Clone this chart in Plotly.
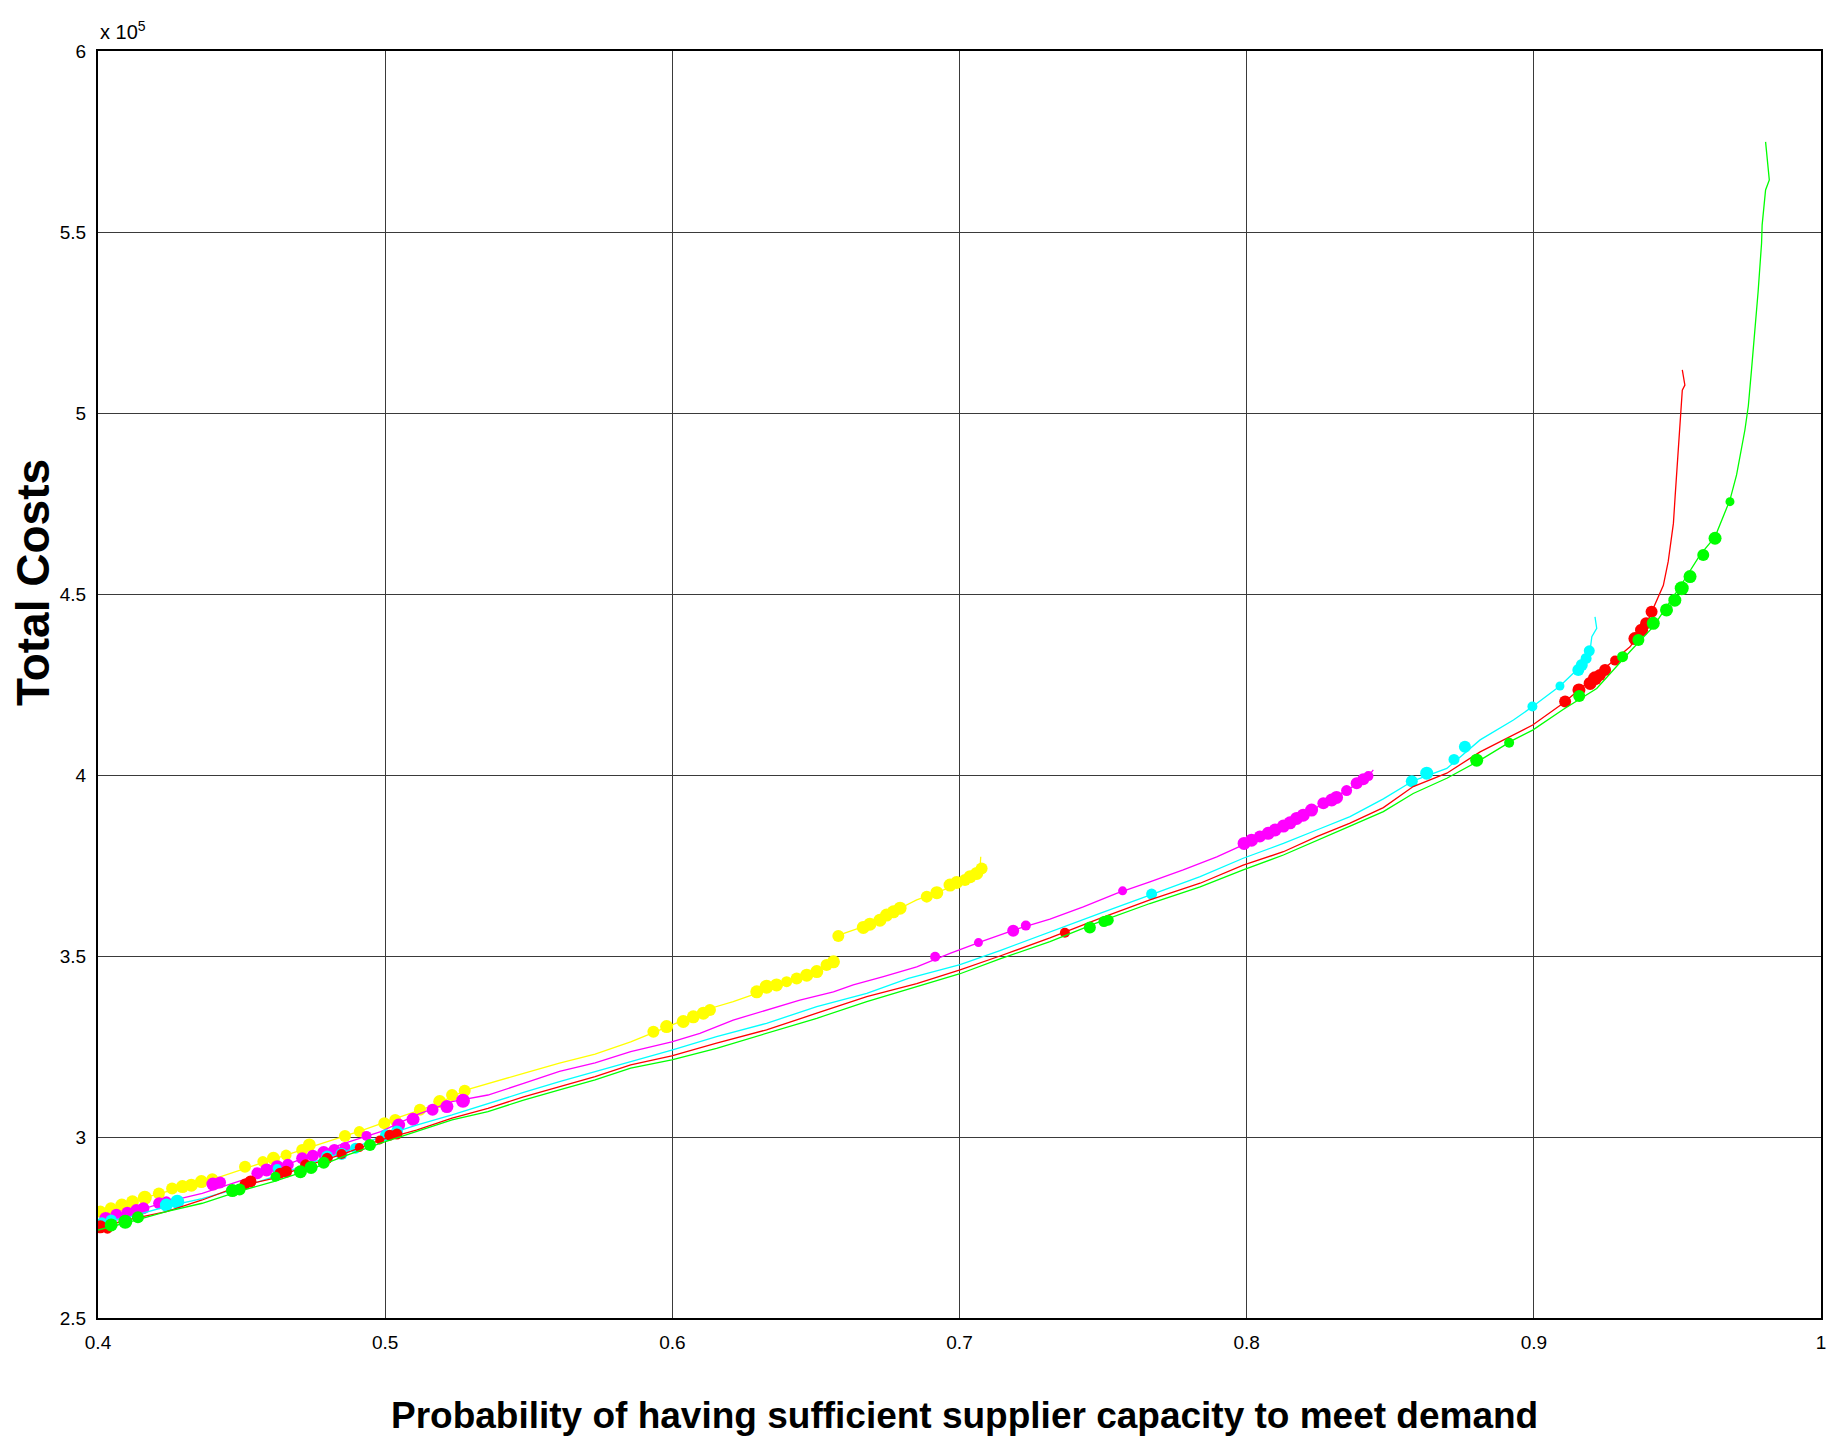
import plotly.graph_objects as go

# ---------------- data (costs in units of 10^5) ----------------
yellow_x = [0.4, 0.4114, 0.4176, 0.430, 0.4425, 0.455, 0.4674, 0.4798, 0.4922, 0.5047, 0.5171, 0.5283,
            0.5358, 0.5482, 0.5607, 0.5731, 0.5855, 0.5998, 0.6131, 0.6212, 0.6294, 0.6387, 0.6479, 0.6566,
            None, 0.6570, 0.6665, 0.6781, 0.6851, 0.6921, 0.7002, 0.7071, 0.7074]
yellow_y = [2.794, 2.817, 2.835, 2.863, 2.890, 2.923, 2.955, 2.987, 3.019, 3.054, 3.088, 3.130,
            3.148, 3.176, 3.204, 3.229, 3.263, 3.309, 3.355, 3.374, 3.397, 3.424, 3.452, 3.489,
            None, 3.555, 3.581, 3.627, 3.655, 3.675, 3.701, 3.737, 3.774]

magenta_x = [0.4, 0.4114, 0.4238, 0.4363, 0.4487, 0.4611, 0.4736, 0.4860, 0.4985, 0.5109, 0.5233, 0.5358,
             0.5482, 0.5607, 0.5731, 0.5855, 0.5998, 0.6096, 0.6212, 0.6328, 0.6444, 0.6561, 0.6630, 0.6735,
             0.6851, 0.6967, 0.7083, 0.7199, 0.7315, 0.7431, 0.7547, 0.7663, 0.7779, 0.7896, 0.7988, 0.8070,
             0.8186, 0.8302, 0.8418, 0.8441]
magenta_y = [2.766, 2.791, 2.821, 2.844, 2.877, 2.909, 2.948, 2.983, 3.015, 3.061, 3.098, 3.116,
             3.148, 3.181, 3.205, 3.236, 3.263, 3.286, 3.323, 3.351, 3.378, 3.401, 3.420, 3.443,
             3.470, 3.507, 3.542, 3.574, 3.602, 3.636, 3.673, 3.705, 3.738, 3.774, 3.807, 3.839,
             3.885, 3.936, 3.991, 4.014]

cyan_x = [0.4, 0.4114, 0.4238, 0.4363, 0.4487, 0.4611, 0.4736, 0.4860, 0.4985, 0.5109, 0.5233, 0.5358,
          0.5482, 0.5607, 0.5731, 0.5855, 0.5998, 0.6154, 0.6328, 0.6503, 0.6677, 0.6822, 0.7002, 0.7141,
          0.7315, 0.7489, 0.7663, 0.7838, 0.7988, 0.8128, 0.8244, 0.8360, 0.8476, 0.8580, 0.8697, 0.8813,
          0.8929, 0.8996, 0.9091, 0.9161, 0.9196, 0.9202, 0.9219, 0.9213]
cyan_y = [2.762, 2.780, 2.808, 2.830, 2.858, 2.890, 2.927, 2.959, 3.001, 3.033, 3.061, 3.093,
          3.123, 3.153, 3.180, 3.208, 3.240, 3.277, 3.314, 3.360, 3.397, 3.438, 3.476, 3.515,
          3.567, 3.618, 3.668, 3.719, 3.770, 3.811, 3.848, 3.885, 3.934, 3.984, 4.018, 4.097,
          4.152, 4.189, 4.246, 4.299, 4.345, 4.382, 4.405, 4.437]

red_x = [0.4, 0.4114, 0.4238, 0.4363, 0.4487, 0.4611, 0.4736, 0.4860, 0.4985, 0.5109, 0.5233, 0.5358,
         0.5482, 0.5607, 0.5731, 0.5855, 0.5998, 0.6154, 0.6328, 0.6503, 0.6677, 0.6851, 0.7002, 0.7141,
         0.7315, 0.7489, 0.7663, 0.7838, 0.7988, 0.8128, 0.8244, 0.8360, 0.8476, 0.8580, 0.8697, 0.8813,
         0.8929, 0.8996, 0.9102, 0.9219, 0.9335, 0.9393, 0.9427, 0.9451, 0.9468, 0.9486, 0.9492, 0.9503,
         0.9509, 0.9517, 0.9526, 0.9517]
red_y = [2.750, 2.773, 2.794, 2.826, 2.863, 2.886, 2.923, 2.955, 2.992, 3.019, 3.052, 3.079,
         3.111, 3.139, 3.167, 3.199, 3.224, 3.259, 3.296, 3.342, 3.388, 3.424, 3.462, 3.500,
         3.550, 3.604, 3.655, 3.701, 3.751, 3.788, 3.830, 3.867, 3.910, 3.968, 4.005, 4.064,
         4.110, 4.138, 4.198, 4.276, 4.354, 4.419, 4.483, 4.524, 4.590, 4.695, 4.769, 4.895,
         4.950, 5.063, 5.077, 5.119]

green_x = [0.4, 0.4114, 0.4238, 0.4363, 0.4487, 0.4611, 0.4736, 0.4860, 0.4985, 0.5109, 0.5233, 0.5358,
           0.5482, 0.5607, 0.5731, 0.5855, 0.5998, 0.6154, 0.6328, 0.6503, 0.6677, 0.6851, 0.7002, 0.7141,
           0.7315, 0.7489, 0.7663, 0.7838, 0.7988, 0.8128, 0.8244, 0.8360, 0.8476, 0.8580, 0.8697, 0.8813,
           0.8929, 0.8996, 0.9102, 0.9219, 0.9335, 0.9416, 0.9486, 0.9509, 0.9579, 0.9631, 0.9683, 0.9706,
           0.9735, 0.9747, 0.9758, 0.9770, 0.9781, 0.9793, 0.9795, 0.9807, 0.9820, 0.9807]
green_y = [2.743, 2.766, 2.794, 2.817, 2.849, 2.877, 2.909, 2.948, 2.983, 3.015, 3.047, 3.070,
           3.102, 3.130, 3.158, 3.190, 3.213, 3.245, 3.286, 3.328, 3.374, 3.415, 3.451, 3.492,
           3.540, 3.595, 3.645, 3.691, 3.738, 3.779, 3.820, 3.859, 3.899, 3.949, 3.991, 4.041,
           4.097, 4.124, 4.181, 4.239, 4.341, 4.410, 4.493, 4.520, 4.608, 4.658, 4.760, 4.829,
           4.953, 5.020, 5.119, 5.229, 5.335, 5.469, 5.519, 5.616, 5.644, 5.749]

# highlighted points (dots)
yellow_dot_x = [0.4008, 0.4045, 0.4083, 0.412, 0.4163, 0.4212, 0.4258, 0.4294, 0.4325, 0.436, 0.4398,
                0.4512, 0.4574, 0.4611, 0.4655, 0.4711, 0.4736, 0.486, 0.491, 0.4997, 0.5035, 0.5121,
                0.519, 0.5233, 0.5277,
                0.5934, 0.5980, 0.6038, 0.6073, 0.6108, 0.6131, 0.6294, 0.6328, 0.6363, 0.6398, 0.6433,
                0.6468, 0.6503, 0.6537, 0.6561, 0.6578, 0.6665, 0.6688, 0.6723, 0.6746, 0.6770, 0.6793,
                0.6886, 0.6921, 0.6967, 0.6990, 0.7019, 0.7037, 0.7060, 0.7077]
yellow_dot_y = [2.794, 2.803, 2.812, 2.821, 2.832, 2.844, 2.858, 2.863, 2.867, 2.877, 2.883,
                2.918, 2.932, 2.941, 2.950, 2.964, 2.978, 3.003, 3.015, 3.038, 3.047, 3.075,
                3.098, 3.116, 3.128,
                3.291, 3.305, 3.319, 3.332, 3.342, 3.351, 3.401, 3.415, 3.420, 3.429, 3.438,
                3.447, 3.457, 3.475, 3.484, 3.555, 3.579, 3.588, 3.599, 3.613, 3.622, 3.632,
                3.664, 3.675, 3.696, 3.703, 3.710, 3.719, 3.728, 3.742]
yellow_dot_s = [12, 12, 13, 13, 14, 12, 12, 13, 13, 13, 12,
                12, 11, 13, 11, 12, 13, 12, 11, 12, 12, 12,
                13, 12, 12,
                12, 13, 13, 13, 13, 12, 13, 14, 13, 11, 12,
                13, 13, 12, 13, 12, 13, 13, 13, 13, 13, 13,
                12, 13, 13, 13, 12, 13, 13, 12]

magenta_dot_x = [0.4027, 0.4064, 0.4102, 0.4133, 0.4158, 0.4213, 0.4238, 0.4400, 0.4425, 0.4555, 0.4587,
                 0.4624, 0.4661, 0.4711, 0.4748, 0.4786, 0.4823, 0.4860, 0.4935, 0.5047, 0.5097, 0.5165,
                 0.5215, 0.5271, 0.6915, 0.7066, 0.7187, 0.7231, 0.7568,
                 0.7991, 0.8017, 0.8046, 0.8075, 0.8099, 0.8128, 0.8151, 0.8174, 0.8197, 0.8226, 0.8267,
                 0.8296, 0.8313, 0.8348, 0.8383, 0.8406, 0.8424]
magenta_dot_y = [2.775, 2.785, 2.791, 2.798, 2.803, 2.817, 2.821, 2.870, 2.874, 2.900, 2.909,
                 2.918, 2.923, 2.941, 2.948, 2.957, 2.964, 2.971, 3.003, 3.033, 3.049, 3.075,
                 3.084, 3.100, 3.498, 3.537, 3.570, 3.584, 3.680,
                 3.811, 3.820, 3.830, 3.839, 3.848, 3.859, 3.868, 3.880, 3.889, 3.903, 3.922,
                 3.931, 3.938, 3.957, 3.977, 3.988, 3.997]
magenta_dot_s = [13, 12, 12, 12, 12, 12, 11, 13, 12, 12, 13,
                 13, 12, 12, 12, 13, 12, 11, 10, 13, 13, 12,
                 13, 14, 10, 9, 12, 10, 9,
                 13, 13, 12, 13, 13, 13, 13, 13, 13, 13, 12,
                 13, 13, 11, 12, 12, 10]

cyan_dot_x = [0.4014, 0.4046, 0.4238, 0.4276, 0.4624, 0.4798, 0.4848, 0.4897, 0.5003, 0.5041,
              0.7669, 0.8575, 0.8627, 0.8722, 0.8760, 0.8995, 0.9091, 0.9155, 0.9167, 0.9182, 0.9193]
cyan_dot_y = [2.763, 2.771, 2.812, 2.821, 2.913, 2.946, 2.953, 2.969, 3.005, 3.015,
              3.671, 3.983, 4.005, 4.043, 4.078, 4.189, 4.246, 4.290, 4.304, 4.322, 4.343]
cyan_dot_s = [11, 11, 13, 14, 9, 12, 12, 11, 12, 12,
              11, 12, 13, 11, 12, 10, 9, 12, 12, 11, 11]

red_dot_x = [0.4008, 0.4033, 0.4512, 0.4531, 0.4634, 0.4655, 0.4723, 0.4798, 0.4848, 0.4910, 0.4981,
             0.5016, 0.5041, 0.7367, 0.9109, 0.9157, 0.9196, 0.9213, 0.9230, 0.9248, 0.9283, 0.9352,
             0.9375, 0.9391, 0.9410]
red_dot_y = [2.752, 2.748, 2.870, 2.877, 2.900, 2.904, 2.923, 2.941, 2.953, 2.971, 2.992,
             3.005, 3.008, 3.564, 4.203, 4.235, 4.253, 4.267, 4.276, 4.290, 4.316, 4.377,
             4.400, 4.419, 4.451]
red_dot_s = [13, 11, 11, 12, 11, 12, 11, 11, 10, 9, 9,
             11, 11, 10, 12, 13, 13, 14, 12, 12, 10, 13,
             13, 12, 12]

green_dot_x = [0.4046, 0.4095, 0.4139, 0.4468, 0.4493, 0.4618, 0.4705, 0.4742, 0.4786, 0.4947,
               0.7454, 0.7503, 0.7518, 0.8801, 0.8914, 0.9158, 0.9309, 0.9364, 0.9416, 0.9462,
               0.9491, 0.9515, 0.9544, 0.9590, 0.9631, 0.9683]
green_dot_y = [2.757, 2.766, 2.778, 2.852, 2.855, 2.890, 2.904, 2.916, 2.929, 2.978,
               3.579, 3.595, 3.599, 4.041, 4.089, 4.218, 4.327, 4.373, 4.419, 4.456,
               4.483, 4.516, 4.548, 4.608, 4.654, 4.755]
green_dot_s = [13, 14, 12, 13, 12, 10, 13, 13, 12, 12,
               12, 11, 11, 13, 10, 12, 11, 12, 13, 13,
               13, 14, 13, 12, 13, 9]

x_ticks = [0.4, 0.5, 0.6, 0.7, 0.8, 0.9, 1.0]
x_tick_labels = ["0.4", "0.5", "0.6", "0.7", "0.8", "0.9", "1"]
y_ticks = [2.5, 3, 3.5, 4, 4.5, 5, 5.5, 6]
y_tick_labels = ["2.5", "3", "3.5", "4", "4.5", "5", "5.5", "6"]

series = [
    ("yellow", "#FFFF00", yellow_x, yellow_y, yellow_dot_x, yellow_dot_y, yellow_dot_s),
    ("magenta", "#FF00FF", magenta_x, magenta_y, magenta_dot_x, magenta_dot_y, magenta_dot_s),
    ("cyan", "#00FFFF", cyan_x, cyan_y, cyan_dot_x, cyan_dot_y, cyan_dot_s),
    ("red", "#FF0000", red_x, red_y, red_dot_x, red_dot_y, red_dot_s),
    ("green", "#00FF00", green_x, green_y, green_dot_x, green_dot_y, green_dot_s),
]

fig = go.Figure()
for name, col, lx, ly, dx, dy, ds in series:
    fig.add_trace(go.Scatter(x=lx, y=ly, mode="lines", line=dict(color=col, width=1.3),
                             showlegend=False, name=name, connectgaps=False))
    fig.add_trace(go.Scatter(x=dx, y=dy, mode="markers",
                             marker=dict(color=col, size=ds, opacity=1, line=dict(width=0)),
                             showlegend=False, name=name))

W, H = 1841, 1439
ML, MR, MT, MB = 98, 20, 51, 121
font_tick = dict(family="Liberation Sans, Arial, Helvetica, sans-serif", size=19, color="black")

fig.update_layout(
    width=W, height=H,
    margin=dict(l=ML, r=MR, t=MT, b=MB, pad=0),
    paper_bgcolor="white", plot_bgcolor="white",
    xaxis=dict(range=[0.4, 1.0], tickvals=x_ticks, ticktext=x_tick_labels,
               showgrid=True, gridcolor="#3a3a3a", gridwidth=1,
               showline=True, linecolor="black", linewidth=2, mirror=True,
               zeroline=False, ticks="", tickfont=font_tick, ticklabelstandoff=6),
    yaxis=dict(range=[2.5, 6.0], tickvals=y_ticks, ticktext=y_tick_labels,
               showgrid=True, gridcolor="#3a3a3a", gridwidth=1,
               showline=True, linecolor="black", linewidth=2, mirror=True,
               zeroline=False, ticks="", tickfont=font_tick, ticklabelstandoff=6),
    annotations=[
        dict(text="x 10<sup>5</sup>", xref="paper", yref="paper", x=0.0, y=1.0,
             xanchor="left", yanchor="bottom", yshift=6, showarrow=False,
             font=dict(family="Liberation Sans, Arial, sans-serif", size=20, color="black")),
        dict(text="<b>Total Costs</b>", xref="paper", yref="paper",
             x=-(ML - 33) / (W - ML - MR), xanchor="center",
             y=1 - (583 - MT) / (H - MT - MB), yanchor="middle", textangle=-90, showarrow=False,
             font=dict(family="Liberation Sans, Arial, sans-serif", size=46, color="black")),
        dict(text="<b>Probability of having sufficient supplier capacity to meet demand</b>",
             xref="paper", yref="paper",
             x=(964.6 - ML) / (W - ML - MR), xanchor="center",
             y=-(1415 - (H - MB)) / (H - MT - MB), yanchor="middle", showarrow=False,
             font=dict(family="Liberation Sans, Arial, sans-serif", size=37, color="black")),
    ],
)

fig.write_html("out.html")
